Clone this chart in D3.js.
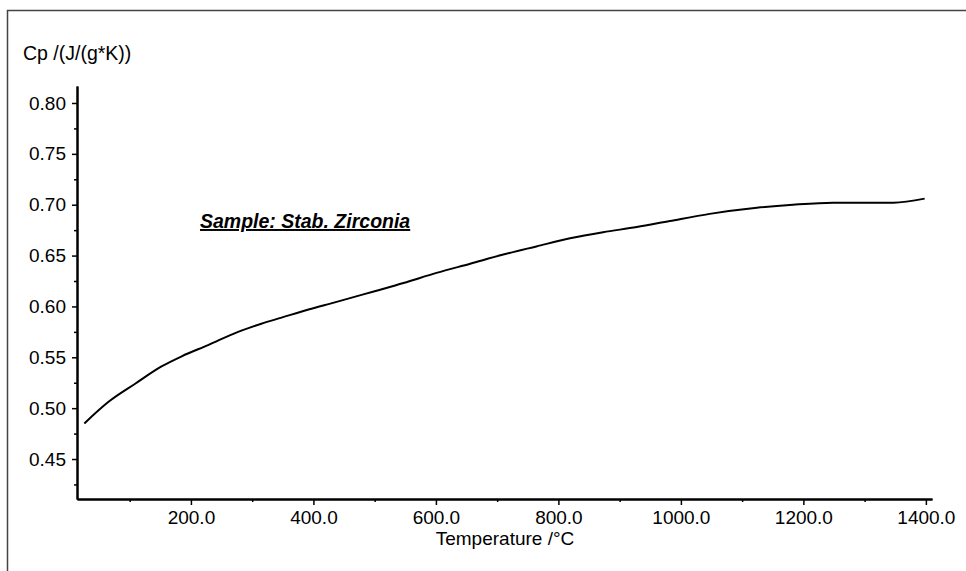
<!DOCTYPE html>
<html>
<head>
<meta charset="utf-8">
<script src="https://cdn.jsdelivr.net/npm/d3@7/dist/d3.min.js"></script>
<style>
  html, body { margin: 0; padding: 0; background: #fff; }
  svg { display: block; font-family: Arial, 'Liberation Sans', sans-serif; }
</style>
</head>
<body>
<div id="chart"></div>
<script>
// Cp curve
var temps = [26, 65, 109, 152, 185, 228, 277, 315, 348, 392, 435, 500, 547, 601, 656, 710,
  764, 819, 873, 928, 982, 1047, 1124, 1183, 1249, 1347, 1398];
var cps = [0.485, 0.506, 0.524, 0.541, 0.551, 0.562, 0.575, 0.583, 0.589, 0.597, 0.604, 0.615,
  0.623, 0.633, 0.642, 0.651, 0.659, 0.667, 0.673, 0.678, 0.684, 0.691, 0.697, 0.700, 0.702, 0.702, 0.706];

var xTicks = [200, 400, 600, 800, 1000, 1200, 1400];
var xMinor = [100, 300, 500, 700, 900, 1100, 1300];
var yTicks = [0.45, 0.50, 0.55, 0.60, 0.65, 0.70, 0.75, 0.80];
var yMinor = [0.425, 0.475, 0.525, 0.575, 0.625, 0.675, 0.725, 0.775];

var sampleLabel = 'Sample: Stab. Zirconia';
var yLabel = 'Cp /(J/(g*K))';
var xLabel = 'Temperature /°C';

var width = 966, height = 571;

var svg = d3.select('#chart').append('svg')
  .attr('width', width)
  .attr('height', height)

// outer frame (right and bottom sides run off the picture)
svg.append('path')
  .attr('d', 'M7.5,' + height + 'V10.5H' + width)
  .attr('fill', 'none')
  .attr('stroke', '#444')
  .attr('stroke-width', 1.5)

var x = d3.scaleLinear().domain([14, 1410]).range([77, 932]);
var y = d3.scaleLinear().domain([0.4107, 0.8167]).range([499, 86]);

// minor ticks first, majors over them
svg.append('g')
  .attr('transform', 'translate(0,499)')
  .call(d3.axisBottom(x).tickValues(xMinor).tickSize(3).tickSizeOuter(0).tickFormat(''))
svg.append('g')
  .attr('transform', 'translate(77,0)')
  .call(d3.axisLeft(y).tickValues(yMinor).tickSize(3).tickSizeOuter(0).tickFormat(''))

let xAxis = svg.append('g')
  .attr('transform', 'translate(0,499)')
  .call(d3.axisBottom(x).tickValues(xTicks).tickSize(6).tickSizeOuter(0)
    .tickPadding(6).tickFormat(d3.format('.1f')))
let yAxis = svg.append('g')
  .attr('transform', 'translate(77,0)')
  .call(d3.axisLeft(y).tickValues(yTicks).tickSize(5).tickSizeOuter(0)
    .tickPadding(6).tickFormat(d3.format('.2f')))

svg.selectAll('.domain').attr('stroke', '#000').attr('stroke-width', 2)
svg.selectAll('.tick line').attr('stroke', '#000').attr('stroke-width', 1.5)
svg.selectAll('.tick text')
  .attr('fill', '#000')
  .attr('font-size', '19px')
  .attr('font-family', "Arial, 'Liberation Sans', sans-serif")

// curve
let pts = temps.map((t, i) => [t, cps[i]]);
svg.append('path')
  .datum(pts)
  .attr('fill', 'none')
  .attr('stroke', '#000')
  .attr('stroke-width', 2)
  .attr('stroke-linejoin', 'round')
  .attr('d', d3.line().curve(d3.curveMonotoneX).x(d => x(d[0])).y(d => y(d[1])))

svg.append('text')
  .attr('x', 23)
  .attr('y', 60)
  .attr('font-size', '19.5px')
  .attr('fill', '#000')
  .text(yLabel)

svg.append('text')
  .attr('x', 505)
  .attr('y', 545)
  .attr('font-size', '19px')
  .attr('text-anchor', 'middle')
  .attr('fill', '#000')
  .text(xLabel)

svg.append('text')
  .attr('x', 200)
  .attr('y', 228)
  .attr('font-size', '19.5px')
  .attr('font-weight', 'bold')
  .attr('font-style', 'italic')
  .attr('text-decoration', 'underline')
  .attr('fill', '#000')
  .text(sampleLabel)
</script>
</body>
</html>
